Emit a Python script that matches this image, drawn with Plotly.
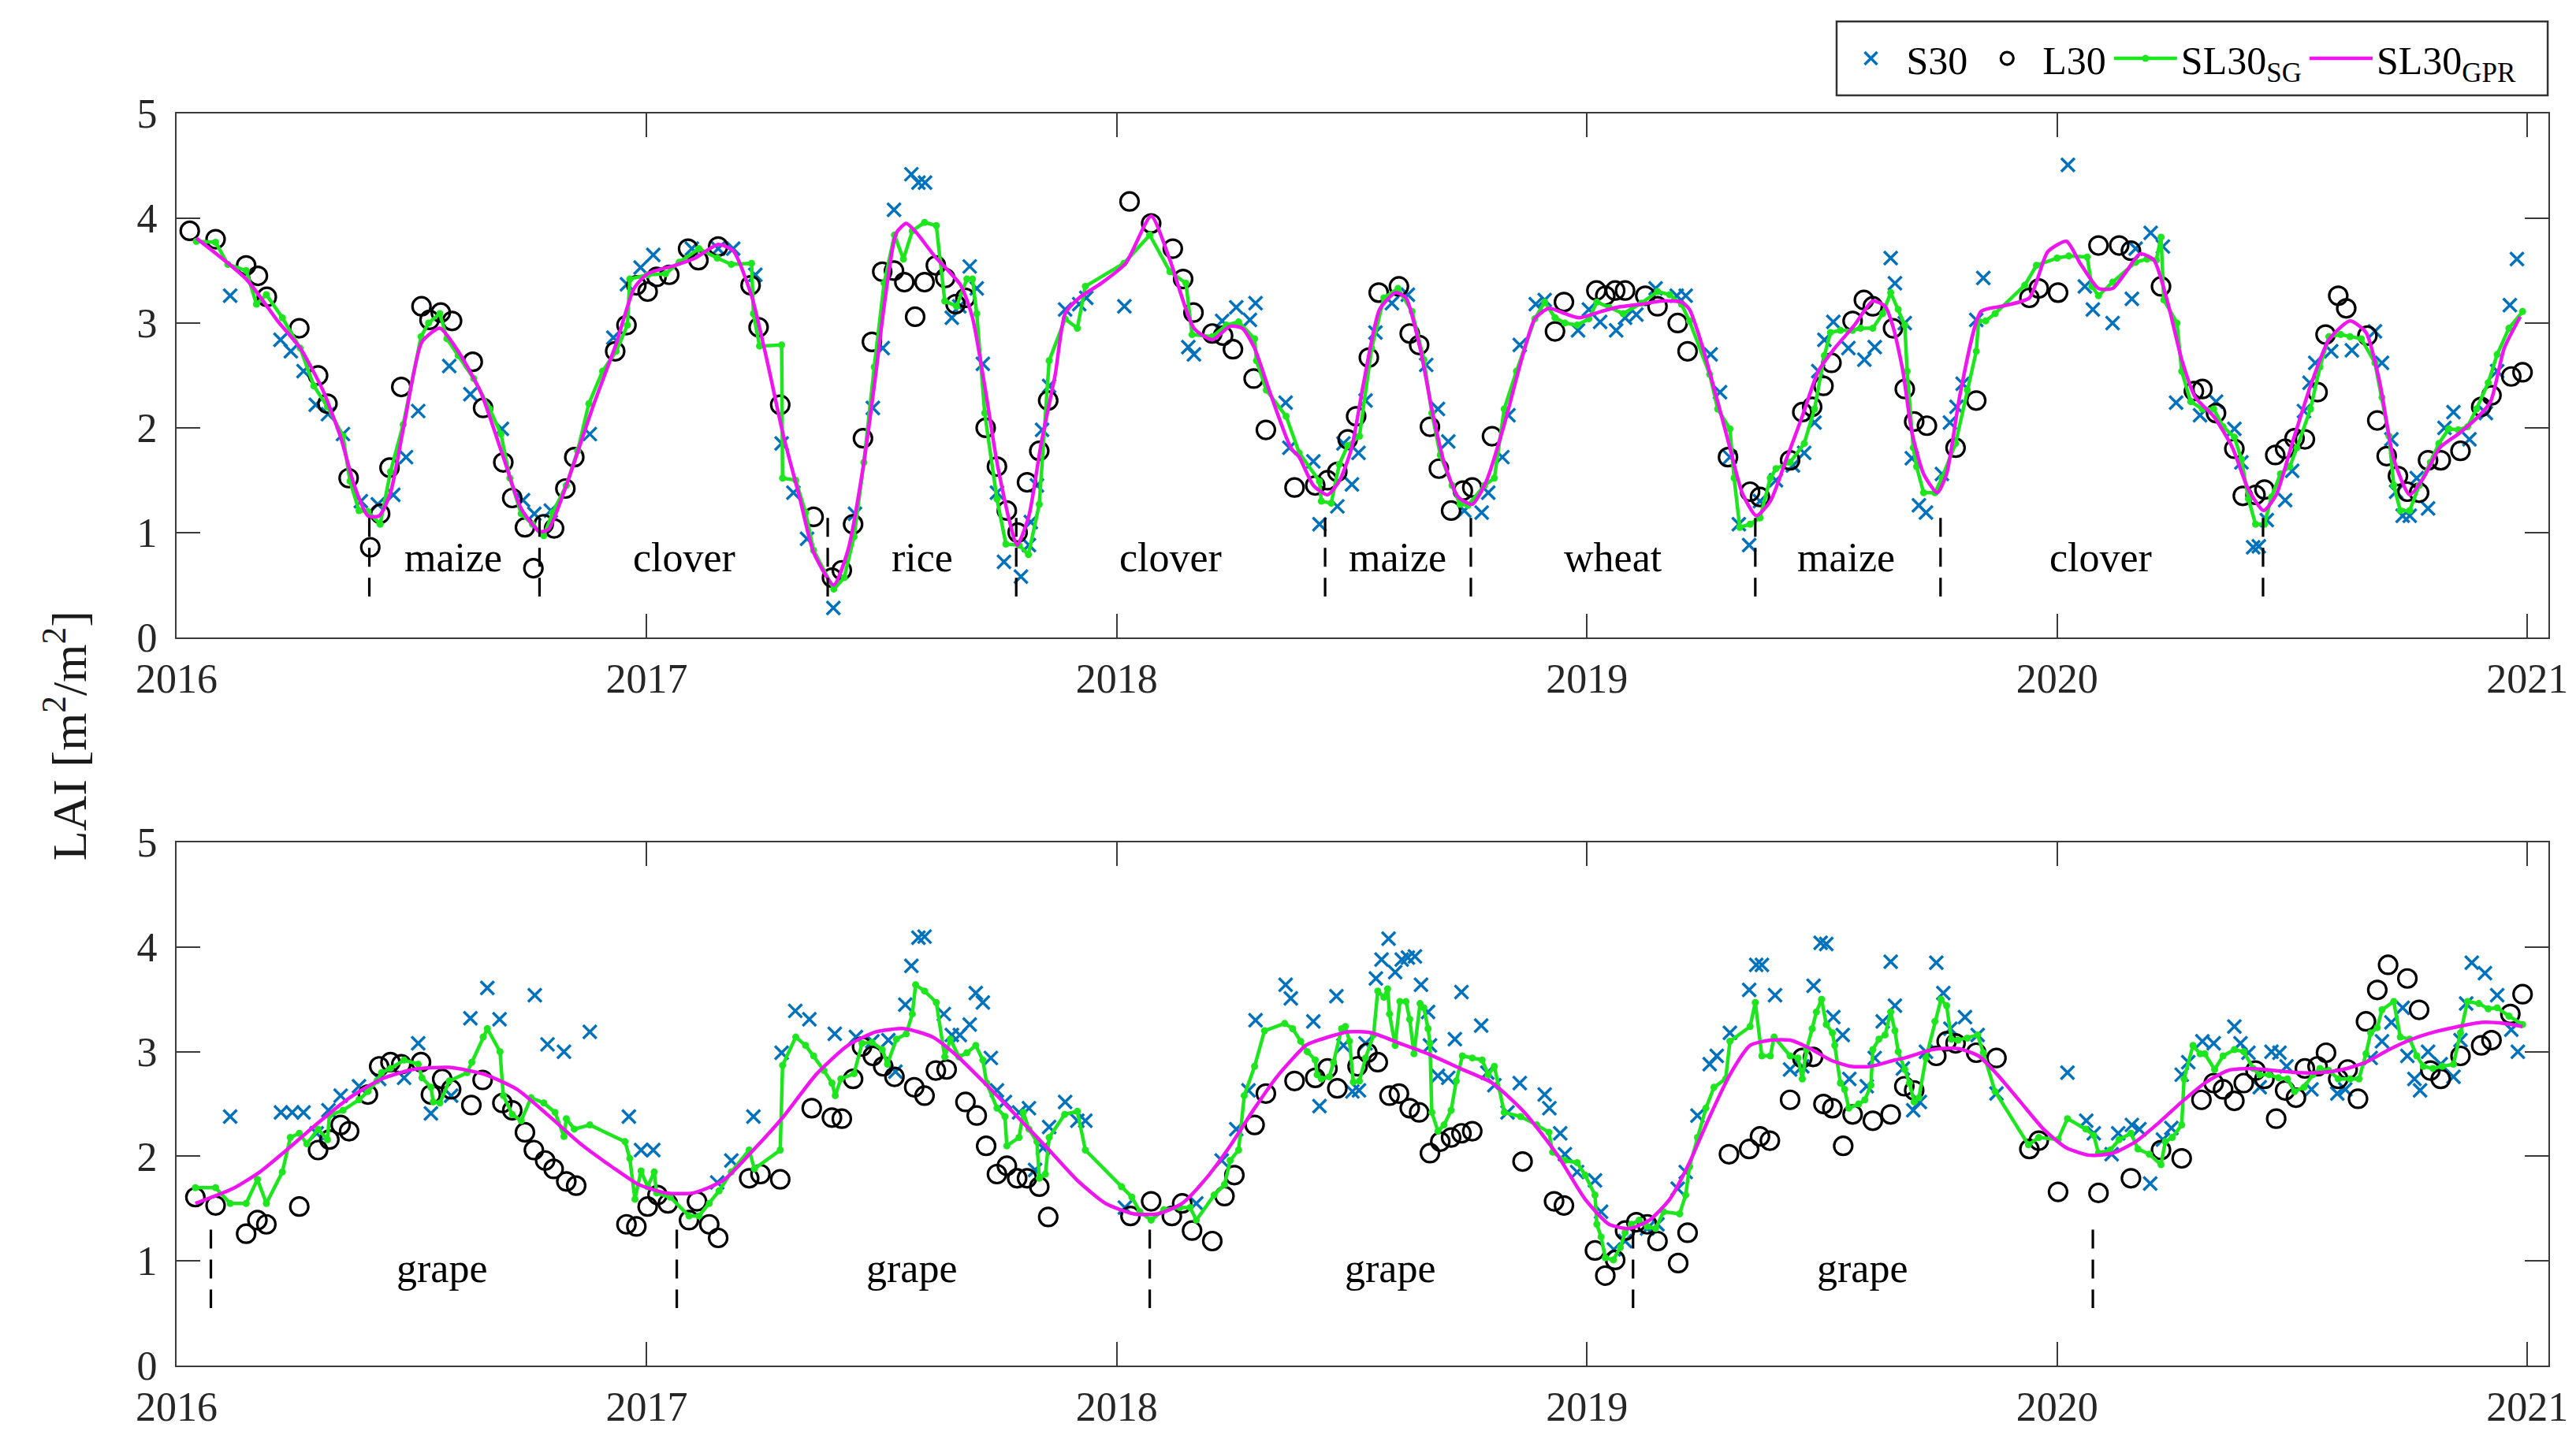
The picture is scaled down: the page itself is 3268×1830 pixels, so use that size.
import plotly.graph_objects as go

# ---------------- data: top panel (crop rotation field) ----------------
top_s30_t = [2016.114, 2016.221, 2016.243, 2016.270, 2016.296, 2016.322, 2016.354, 2016.392, 2016.428, 2016.461, 2016.488, 2016.514, 2016.580, 2016.625, 2016.692, 2016.737, 2016.761, 2016.796, 2016.879, 2016.929, 2016.958, 2016.987, 2017.014, 2017.096, 2017.152, 2017.184, 2017.231, 2017.287, 2017.312, 2017.341, 2017.397, 2017.443, 2017.481, 2017.502, 2017.526, 2017.563, 2017.578, 2017.592, 2017.649, 2017.665, 2017.687, 2017.702, 2017.715, 2017.745, 2017.760, 2017.796, 2017.813, 2017.817, 2017.830, 2017.841, 2017.856, 2017.890, 2017.920, 2017.935, 2018.016, 2018.152, 2018.164, 2018.224, 2018.254, 2018.283, 2018.295, 2018.359, 2018.367, 2018.418, 2018.431, 2018.469, 2018.482, 2018.500, 2018.514, 2018.529, 2018.550, 2018.585, 2018.619, 2018.658, 2018.683, 2018.705, 2018.739, 2018.776, 2018.790, 2018.820, 2018.833, 2018.857, 2018.891, 2018.910, 2018.981, 2019.004, 2019.028, 2019.062, 2019.081, 2019.105, 2019.146, 2019.191, 2019.210, 2019.263, 2019.283, 2019.304, 2019.323, 2019.345, 2019.368, 2019.402, 2019.438, 2019.462, 2019.484, 2019.492, 2019.505, 2019.524, 2019.556, 2019.590, 2019.612, 2019.646, 2019.655, 2019.676, 2019.691, 2019.706, 2019.721, 2019.755, 2019.772, 2019.786, 2019.799, 2019.828, 2019.843, 2020.023, 2020.059, 2020.076, 2020.118, 2020.159, 2020.167, 2020.199, 2020.225, 2020.253, 2020.304, 2020.338, 2020.377, 2020.392, 2020.417, 2020.429, 2020.446, 2020.485, 2020.500, 2020.525, 2020.537, 2020.549, 2020.583, 2020.627, 2020.676, 2020.691, 2020.711, 2020.721, 2020.735, 2020.750, 2020.765, 2020.789, 2020.824, 2020.843, 2020.877, 2020.912, 2020.936, 2020.963, 2020.978]
top_s30_v = [3.26, 2.84, 2.73, 2.54, 2.22, 2.13, 1.94, 1.30, 1.27, 1.36, 1.72, 2.16, 2.59, 2.32, 1.99, 1.31, 1.18, 1.21, 1.94, 2.86, 3.37, 3.53, 3.65, 3.71, 3.71, 3.71, 3.46, 1.85, 1.38, 0.94, 0.28, 1.18, 2.19, 2.76, 4.08, 4.42, 4.34, 4.34, 3.05, 3.16, 3.54, 3.33, 2.61, 1.38, 0.72, 0.58, 0.88, 1.10, 1.45, 1.98, 2.40, 3.13, 3.18, 3.24, 3.16, 2.77, 2.70, 3.02, 3.15, 3.03, 3.19, 2.24, 1.81, 1.68, 1.08, 1.25, 1.85, 1.46, 1.76, 2.26, 2.91, 3.19, 3.27, 2.60, 2.18, 1.87, 1.21, 1.19, 1.38, 1.72, 2.12, 2.79, 3.18, 3.22, 2.93, 3.13, 3.01, 2.93, 3.05, 3.08, 3.33, 3.26, 3.26, 2.70, 2.34, 1.72, 1.08, 0.88, 1.30, 1.50, 1.64, 1.76, 2.05, 2.54, 2.84, 3.01, 2.76, 2.65, 2.77, 3.62, 3.38, 3.00, 1.71, 1.26, 1.19, 1.56, 2.05, 2.20, 2.42, 3.03, 3.43, 4.51, 3.35, 3.13, 3.00, 3.23, 3.71, 3.86, 3.73, 2.24, 2.12, 2.25, 1.99, 1.67, 0.86, 0.87, 1.12, 1.31, 1.59, 2.16, 2.43, 2.62, 2.73, 2.74, 2.92, 2.62, 1.89, 1.39, 1.16, 1.16, 1.52, 1.23, 2.00, 2.15, 1.89, 2.14, 2.54, 3.17, 3.61]

top_l30_t = [2016.028, 2016.083, 2016.148, 2016.173, 2016.192, 2016.261, 2016.301, 2016.321, 2016.366, 2016.412, 2016.433, 2016.453, 2016.478, 2016.521, 2016.538, 2016.562, 2016.586, 2016.630, 2016.652, 2016.695, 2016.714, 2016.741, 2016.759, 2016.781, 2016.803, 2016.827, 2016.846, 2016.933, 2016.957, 2016.978, 2017.002, 2017.021, 2017.048, 2017.088, 2017.110, 2017.152, 2017.221, 2017.238, 2017.284, 2017.355, 2017.394, 2017.415, 2017.439, 2017.460, 2017.479, 2017.501, 2017.526, 2017.548, 2017.571, 2017.591, 2017.615, 2017.635, 2017.657, 2017.678, 2017.721, 2017.745, 2017.766, 2017.789, 2017.809, 2017.835, 2017.854, 2018.027, 2018.073, 2018.119, 2018.141, 2018.163, 2018.203, 2018.226, 2018.247, 2018.291, 2018.317, 2018.378, 2018.422, 2018.448, 2018.469, 2018.491, 2018.509, 2018.536, 2018.557, 2018.600, 2018.623, 2018.643, 2018.666, 2018.685, 2018.711, 2018.736, 2018.756, 2018.798, 2018.932, 2018.951, 2019.020, 2019.039, 2019.060, 2019.081, 2019.124, 2019.150, 2019.193, 2019.214, 2019.300, 2019.347, 2019.368, 2019.432, 2019.458, 2019.479, 2019.503, 2019.520, 2019.565, 2019.589, 2019.608, 2019.651, 2019.676, 2019.696, 2019.723, 2019.784, 2019.828, 2019.941, 2019.961, 2020.002, 2020.088, 2020.132, 2020.157, 2020.221, 2020.291, 2020.309, 2020.338, 2020.377, 2020.395, 2020.422, 2020.441, 2020.464, 2020.485, 2020.505, 2020.527, 2020.554, 2020.571, 2020.598, 2020.615, 2020.660, 2020.681, 2020.701, 2020.725, 2020.745, 2020.770, 2020.789, 2020.816, 2020.858, 2020.902, 2020.924, 2020.966, 2020.990]
top_l30_v = [3.88, 3.80, 3.55, 3.45, 3.25, 2.95, 2.50, 2.23, 1.52, 0.86, 1.18, 1.62, 2.39, 3.16, 3.03, 3.10, 3.02, 2.63, 2.19, 1.67, 1.33, 1.05, 0.66, 1.08, 1.04, 1.42, 1.72, 2.73, 2.98, 3.36, 3.30, 3.44, 3.46, 3.71, 3.60, 3.73, 3.36, 2.96, 2.22, 1.15, 0.57, 0.64, 1.08, 1.90, 2.82, 3.49, 3.50, 3.39, 3.06, 3.39, 3.55, 3.43, 3.18, 3.24, 2.00, 1.63, 1.21, 1.00, 1.48, 1.78, 2.26, 4.16, 3.95, 3.71, 3.42, 3.10, 2.90, 2.88, 2.75, 2.47, 1.98, 1.43, 1.45, 1.50, 1.58, 1.89, 2.11, 2.67, 3.29, 3.35, 2.90, 2.79, 2.01, 1.61, 1.21, 1.40, 1.43, 1.92, 2.92, 3.20, 3.31, 3.26, 3.31, 3.31, 3.26, 3.16, 3.00, 2.73, 1.72, 1.39, 1.34, 1.69, 2.15, 2.20, 2.40, 2.62, 3.02, 3.22, 3.16, 2.95, 2.37, 2.06, 2.02, 1.81, 2.26, 3.24, 3.33, 3.29, 3.74, 3.74, 3.69, 3.35, 2.35, 2.37, 2.14, 1.80, 1.35, 1.36, 1.41, 1.74, 1.80, 1.90, 1.89, 2.34, 2.89, 3.26, 3.14, 2.88, 2.07, 1.73, 1.54, 1.39, 1.38, 1.69, 1.69, 1.78, 2.20, 2.31, 2.49, 2.53]

top_sg_t = [2016.042, 2016.083, 2016.109, 2016.148, 2016.170, 2016.191, 2016.225, 2016.263, 2016.292, 2016.321, 2016.354, 2016.369, 2016.388, 2016.407, 2016.433, 2016.455, 2016.482, 2016.520, 2016.536, 2016.560, 2016.575, 2016.599, 2016.632, 2016.666, 2016.690, 2016.709, 2016.733, 2016.757, 2016.781, 2016.800, 2016.829, 2016.853, 2016.877, 2016.906, 2016.935, 2016.959, 2016.964, 2017.002, 2017.040, 2017.069, 2017.111, 2017.150, 2017.180, 2017.223, 2017.227, 2017.240, 2017.287, 2017.289, 2017.317, 2017.338, 2017.355, 2017.398, 2017.420, 2017.441, 2017.462, 2017.484, 2017.505, 2017.527, 2017.546, 2017.565, 2017.591, 2017.616, 2017.634, 2017.659, 2017.681, 2017.693, 2017.702, 2017.719, 2017.745, 2017.764, 2017.792, 2017.812, 2017.835, 2017.856, 2017.890, 2017.916, 2017.933, 2018.015, 2018.070, 2018.113, 2018.147, 2018.160, 2018.203, 2018.233, 2018.259, 2018.293, 2018.297, 2018.318, 2018.360, 2018.388, 2018.431, 2018.435, 2018.456, 2018.473, 2018.491, 2018.516, 2018.542, 2018.568, 2018.598, 2018.628, 2018.653, 2018.670, 2018.688, 2018.713, 2018.730, 2018.747, 2018.782, 2018.803, 2018.824, 2018.850, 2018.889, 2018.910, 2018.932, 2018.953, 2018.979, 2019.004, 2019.021, 2019.047, 2019.077, 2019.116, 2019.150, 2019.176, 2019.201, 2019.218, 2019.261, 2019.278, 2019.304, 2019.313, 2019.325, 2019.347, 2019.368, 2019.390, 2019.402, 2019.432, 2019.462, 2019.484, 2019.505, 2019.518, 2019.539, 2019.565, 2019.582, 2019.608, 2019.629, 2019.646, 2019.662, 2019.676, 2019.681, 2019.694, 2019.701, 2019.716, 2019.740, 2019.755, 2019.784, 2019.809, 2019.828, 2019.833, 2019.848, 2019.868, 2019.931, 2019.956, 2020.000, 2020.025, 2020.064, 2020.074, 2020.088, 2020.118, 2020.167, 2020.191, 2020.211, 2020.221, 2020.227, 2020.255, 2020.265, 2020.284, 2020.309, 2020.333, 2020.353, 2020.377, 2020.392, 2020.407, 2020.422, 2020.441, 2020.456, 2020.475, 2020.495, 2020.510, 2020.539, 2020.559, 2020.578, 2020.603, 2020.623, 2020.647, 2020.676, 2020.691, 2020.706, 2020.716, 2020.730, 2020.750, 2020.770, 2020.794, 2020.812, 2020.833, 2020.853, 2020.873, 2020.892, 2020.917, 2020.936, 2020.961, 2020.990]
top_sg_v = [3.78, 3.77, 3.56, 3.50, 3.18, 3.27, 3.05, 2.76, 2.40, 2.20, 1.92, 1.49, 1.21, 1.20, 1.08, 1.58, 2.03, 2.87, 3.00, 3.09, 2.85, 2.69, 2.47, 2.18, 1.94, 1.52, 1.18, 1.08, 0.97, 1.19, 1.45, 1.78, 2.23, 2.54, 2.73, 2.98, 3.42, 3.46, 3.47, 3.58, 3.71, 3.62, 3.56, 3.57, 3.09, 2.78, 2.79, 1.52, 1.50, 1.19, 0.83, 0.46, 0.57, 0.96, 1.67, 2.58, 3.38, 3.84, 3.61, 3.88, 3.96, 3.93, 3.21, 3.16, 3.42, 3.42, 3.09, 2.14, 1.32, 0.89, 0.88, 0.79, 1.27, 2.64, 3.04, 2.95, 3.35, 3.57, 3.84, 3.49, 3.38, 2.89, 2.87, 2.98, 3.01, 2.85, 2.64, 2.36, 2.11, 1.76, 1.49, 1.30, 1.28, 1.65, 1.83, 1.92, 2.76, 3.24, 3.33, 3.11, 2.65, 2.14, 1.74, 1.45, 1.27, 1.26, 1.45, 1.52, 2.18, 2.54, 3.04, 3.20, 3.05, 3.00, 2.98, 3.04, 3.20, 3.15, 3.09, 3.19, 3.30, 3.27, 3.18, 3.02, 2.51, 2.18, 1.99, 1.52, 1.05, 1.08, 1.14, 1.52, 1.61, 1.67, 1.85, 2.18, 2.69, 2.91, 2.93, 2.93, 2.95, 2.95, 3.09, 3.29, 3.13, 2.98, 2.54, 1.81, 1.63, 1.38, 1.38, 1.52, 1.85, 2.36, 2.73, 3.02, 3.02, 3.09, 3.36, 3.55, 3.62, 3.64, 3.63, 3.35, 3.26, 3.39, 3.58, 3.61, 3.60, 3.82, 3.22, 3.00, 2.54, 2.25, 2.18, 2.18, 2.01, 1.91, 1.70, 1.32, 1.08, 1.08, 1.34, 1.56, 1.63, 1.81, 2.18, 2.58, 2.87, 2.89, 2.87, 2.85, 2.62, 2.29, 1.92, 1.45, 1.21, 1.21, 1.45, 1.67, 1.85, 1.99, 1.98, 2.01, 2.18, 2.43, 2.70, 2.95, 3.11]

top_gpr_t = [2016.042, 2016.148, 2016.215, 2016.263, 2016.311, 2016.349, 2016.378, 2016.407, 2016.431, 2016.455, 2016.484, 2016.522, 2016.560, 2016.599, 2016.647, 2016.695, 2016.733, 2016.772, 2016.791, 2016.829, 2016.887, 2016.935, 2016.973, 2017.002, 2017.060, 2017.103, 2017.152, 2017.184, 2017.223, 2017.257, 2017.291, 2017.325, 2017.355, 2017.398, 2017.428, 2017.462, 2017.488, 2017.505, 2017.531, 2017.552, 2017.574, 2017.612, 2017.668, 2017.693, 2017.719, 2017.745, 2017.771, 2017.788, 2017.813, 2017.839, 2017.869, 2017.890, 2017.920, 2017.967, 2018.019, 2018.073, 2018.113, 2018.164, 2018.203, 2018.241, 2018.267, 2018.293, 2018.327, 2018.370, 2018.388, 2018.418, 2018.448, 2018.473, 2018.499, 2018.525, 2018.559, 2018.593, 2018.615, 2018.645, 2018.670, 2018.696, 2018.726, 2018.756, 2018.786, 2018.824, 2018.859, 2018.889, 2018.919, 2018.953, 2018.983, 2019.030, 2019.064, 2019.116, 2019.158, 2019.201, 2019.218, 2019.244, 2019.278, 2019.304, 2019.330, 2019.360, 2019.390, 2019.424, 2019.458, 2019.492, 2019.527, 2019.569, 2019.608, 2019.634, 2019.652, 2019.672, 2019.691, 2019.716, 2019.745, 2019.765, 2019.794, 2019.838, 2019.882, 2019.941, 2019.980, 2020.020, 2020.049, 2020.088, 2020.118, 2020.147, 2020.176, 2020.206, 2020.235, 2020.265, 2020.294, 2020.333, 2020.373, 2020.407, 2020.439, 2020.466, 2020.500, 2020.539, 2020.578, 2020.623, 2020.657, 2020.686, 2020.716, 2020.750, 2020.779, 2020.814, 2020.853, 2020.892, 2020.922, 2020.951, 2020.985]
top_gpr_v = [3.81, 3.42, 3.02, 2.76, 2.36, 1.91, 1.45, 1.16, 1.16, 1.38, 2.03, 2.82, 2.95, 2.73, 2.34, 1.72, 1.23, 1.01, 1.03, 1.45, 2.22, 2.80, 3.33, 3.47, 3.55, 3.62, 3.75, 3.69, 3.26, 2.62, 1.92, 1.34, 0.81, 0.50, 0.83, 1.67, 2.54, 3.16, 3.86, 3.95, 3.86, 3.64, 3.36, 3.05, 2.40, 1.67, 1.12, 0.88, 1.16, 1.85, 2.51, 3.09, 3.24, 3.38, 3.57, 4.02, 3.60, 2.95, 2.84, 2.97, 2.95, 2.76, 2.32, 1.81, 1.72, 1.45, 1.36, 1.49, 1.80, 2.43, 3.13, 3.29, 3.24, 2.76, 2.18, 1.67, 1.34, 1.27, 1.49, 2.03, 2.62, 3.04, 3.14, 3.09, 3.05, 3.11, 3.15, 3.18, 3.21, 3.20, 3.13, 2.80, 2.25, 1.81, 1.38, 1.16, 1.30, 1.70, 2.11, 2.54, 2.76, 2.98, 3.21, 3.16, 2.95, 2.54, 1.96, 1.56, 1.38, 1.56, 2.33, 3.11, 3.16, 3.24, 3.68, 3.78, 3.57, 3.33, 3.33, 3.49, 3.66, 3.60, 3.20, 2.65, 2.29, 2.11, 1.81, 1.41, 1.21, 1.36, 1.85, 2.40, 2.84, 3.02, 2.91, 2.44, 1.70, 1.36, 1.52, 1.81, 1.94, 2.09, 2.25, 2.76, 3.06]

top_bounds = [2016.410, 2016.772, 2017.385, 2017.786, 2018.443, 2018.753, 2019.358, 2019.752, 2020.438]
top_crops = ["maize", "clover", "rice", "clover", "maize", "wheat", "maize", "clover"]
top_crop_t = [2016.589, 2017.079, 2017.586, 2018.114, 2018.597, 2019.055, 2019.551, 2020.093]

# ---------------- data: bottom panel (vineyard) ----------------
bot_s30_t = [2016.114, 2016.222, 2016.246, 2016.270, 2016.298, 2016.323, 2016.349, 2016.388, 2016.431, 2016.484, 2016.514, 2016.541, 2016.584, 2016.625, 2016.661, 2016.687, 2016.762, 2016.789, 2016.824, 2016.879, 2016.962, 2016.988, 2017.014, 2017.150, 2017.180, 2017.227, 2017.287, 2017.316, 2017.346, 2017.400, 2017.445, 2017.480, 2017.514, 2017.529, 2017.550, 2017.563, 2017.578, 2017.591, 2017.632, 2017.649, 2017.666, 2017.687, 2017.700, 2017.715, 2017.732, 2017.745, 2017.762, 2017.792, 2017.813, 2017.826, 2017.843, 2017.856, 2017.890, 2017.916, 2017.933, 2018.017, 2018.169, 2018.223, 2018.254, 2018.280, 2018.295, 2018.359, 2018.370, 2018.418, 2018.431, 2018.467, 2018.482, 2018.501, 2018.515, 2018.529, 2018.551, 2018.563, 2018.578, 2018.592, 2018.606, 2018.619, 2018.634, 2018.647, 2018.662, 2018.666, 2018.683, 2018.705, 2018.719, 2018.733, 2018.775, 2018.788, 2018.803, 2018.831, 2018.857, 2018.910, 2018.920, 2018.943, 2018.953, 2018.979, 2019.017, 2019.030, 2019.057, 2019.081, 2019.128, 2019.150, 2019.193, 2019.210, 2019.235, 2019.261, 2019.276, 2019.304, 2019.345, 2019.360, 2019.372, 2019.400, 2019.432, 2019.458, 2019.482, 2019.497, 2019.509, 2019.524, 2019.544, 2019.558, 2019.595, 2019.612, 2019.629, 2019.646, 2019.655, 2019.672, 2019.694, 2019.708, 2019.721, 2019.743, 2019.758, 2019.773, 2019.804, 2019.831, 2019.871, 2020.022, 2020.062, 2020.078, 2020.116, 2020.130, 2020.159, 2020.175, 2020.198, 2020.225, 2020.243, 2020.265, 2020.279, 2020.309, 2020.333, 2020.377, 2020.390, 2020.407, 2020.431, 2020.456, 2020.473, 2020.488, 2020.541, 2020.596, 2020.613, 2020.667, 2020.691, 2020.711, 2020.735, 2020.745, 2020.760, 2020.772, 2020.789, 2020.816, 2020.843, 2020.858, 2020.870, 2020.882, 2020.910, 2020.936, 2020.966, 2020.980]
bot_s30_v = [2.38, 2.42, 2.42, 2.42, 2.22, 2.44, 2.58, 2.67, 2.74, 2.75, 3.08, 2.41, 2.58, 3.32, 3.61, 3.31, 3.54, 3.07, 3.00, 3.19, 2.38, 2.06, 2.06, 1.75, 1.96, 2.38, 2.99, 3.39, 3.31, 3.17, 3.14, 3.10, 3.11, 2.81, 3.45, 3.82, 4.09, 4.10, 3.36, 3.16, 3.16, 3.26, 3.56, 3.47, 2.94, 2.63, 2.52, 2.42, 2.46, 1.87, 2.08, 2.28, 2.52, 2.34, 2.34, 1.51, 1.55, 1.96, 2.26, 2.63, 3.30, 3.64, 3.51, 3.29, 2.48, 3.53, 3.06, 2.62, 2.63, 3.08, 3.70, 3.88, 4.08, 3.76, 3.88, 3.90, 3.91, 3.64, 3.38, 3.06, 2.77, 2.75, 3.12, 3.57, 3.25, 2.80, 2.68, 2.42, 2.70, 2.59, 2.46, 2.22, 2.02, 1.85, 1.77, 1.47, 1.11, 1.19, 1.31, 1.35, 1.69, 1.85, 2.39, 2.88, 2.96, 3.18, 3.59, 3.83, 3.83, 3.54, 2.83, 2.86, 3.63, 4.04, 4.03, 3.33, 3.16, 2.74, 2.67, 2.94, 3.29, 3.86, 3.44, 2.84, 2.44, 2.52, 3.00, 3.85, 3.56, 3.22, 3.33, 3.16, 2.60, 2.80, 2.34, 2.22, 2.02, 2.22, 2.30, 2.26, 1.74, 2.16, 2.27, 2.78, 2.90, 3.10, 3.08, 3.24, 3.08, 2.99, 2.66, 3.00, 2.99, 2.86, 2.64, 2.60, 2.64, 2.94, 3.10, 3.28, 3.42, 2.96, 2.74, 2.63, 3.00, 2.88, 2.76, 3.11, 3.46, 3.85, 3.75, 3.54, 3.21, 3.00]

bot_l30_t = [2016.040, 2016.083, 2016.148, 2016.172, 2016.191, 2016.261, 2016.301, 2016.325, 2016.349, 2016.367, 2016.407, 2016.431, 2016.455, 2016.478, 2016.520, 2016.541, 2016.565, 2016.584, 2016.627, 2016.651, 2016.693, 2016.714, 2016.741, 2016.760, 2016.784, 2016.802, 2016.829, 2016.850, 2016.957, 2016.978, 2017.002, 2017.023, 2017.045, 2017.090, 2017.107, 2017.133, 2017.152, 2017.218, 2017.242, 2017.284, 2017.351, 2017.394, 2017.415, 2017.439, 2017.458, 2017.481, 2017.503, 2017.527, 2017.569, 2017.591, 2017.615, 2017.638, 2017.678, 2017.702, 2017.722, 2017.745, 2017.766, 2017.788, 2017.809, 2017.835, 2017.854, 2018.029, 2018.073, 2018.117, 2018.139, 2018.160, 2018.203, 2018.229, 2018.250, 2018.293, 2018.317, 2018.378, 2018.422, 2018.448, 2018.469, 2018.512, 2018.533, 2018.555, 2018.580, 2018.600, 2018.623, 2018.643, 2018.666, 2018.688, 2018.711, 2018.733, 2018.756, 2018.863, 2018.930, 2018.951, 2019.017, 2019.039, 2019.060, 2019.081, 2019.105, 2019.128, 2019.150, 2019.194, 2019.214, 2019.302, 2019.345, 2019.368, 2019.389, 2019.432, 2019.458, 2019.481, 2019.503, 2019.522, 2019.545, 2019.565, 2019.608, 2019.646, 2019.675, 2019.696, 2019.743, 2019.765, 2019.784, 2019.828, 2019.871, 2019.941, 2019.961, 2020.002, 2020.088, 2020.157, 2020.221, 2020.265, 2020.307, 2020.333, 2020.353, 2020.377, 2020.397, 2020.422, 2020.441, 2020.466, 2020.485, 2020.508, 2020.527, 2020.554, 2020.572, 2020.598, 2020.618, 2020.640, 2020.657, 2020.681, 2020.704, 2020.745, 2020.770, 2020.794, 2020.816, 2020.858, 2020.902, 2020.924, 2020.964, 2020.990]
bot_l30_v = [1.61, 1.53, 1.26, 1.39, 1.35, 1.52, 2.06, 2.16, 2.30, 2.24, 2.59, 2.86, 2.90, 2.88, 2.90, 2.59, 2.74, 2.64, 2.49, 2.73, 2.51, 2.44, 2.23, 2.06, 1.96, 1.88, 1.76, 1.72, 1.35, 1.33, 1.52, 1.63, 1.55, 1.39, 1.57, 1.35, 1.22, 1.79, 1.83, 1.78, 2.46, 2.37, 2.36, 2.74, 3.05, 2.96, 2.86, 2.76, 2.66, 2.58, 2.82, 2.83, 2.52, 2.39, 2.10, 1.83, 1.91, 1.79, 1.79, 1.71, 1.42, 1.43, 1.57, 1.43, 1.55, 1.29, 1.19, 1.62, 1.82, 2.30, 2.60, 2.72, 2.75, 2.84, 2.65, 2.86, 2.99, 2.90, 2.58, 2.60, 2.46, 2.42, 2.03, 2.14, 2.18, 2.22, 2.24, 1.95, 1.57, 1.53, 1.10, 0.86, 1.01, 1.29, 1.37, 1.35, 1.19, 0.98, 1.27, 2.02, 2.07, 2.19, 2.15, 2.54, 2.94, 2.95, 2.50, 2.46, 2.10, 2.40, 2.34, 2.40, 2.67, 2.63, 2.96, 3.10, 3.08, 2.99, 2.94, 2.07, 2.15, 1.66, 1.65, 1.79, 2.06, 1.98, 2.54, 2.70, 2.64, 2.53, 2.70, 2.82, 2.74, 2.36, 2.63, 2.56, 2.84, 2.86, 2.99, 2.74, 2.83, 2.55, 3.29, 3.59, 3.83, 3.70, 3.40, 2.82, 2.74, 2.96, 3.06, 3.11, 3.36, 3.55]

bot_sg_t = [2016.040, 2016.083, 2016.114, 2016.148, 2016.172, 2016.191, 2016.225, 2016.242, 2016.261, 2016.277, 2016.301, 2016.321, 2016.325, 2016.354, 2016.388, 2016.407, 2016.426, 2016.436, 2016.455, 2016.484, 2016.514, 2016.522, 2016.541, 2016.546, 2016.560, 2016.580, 2016.618, 2016.628, 2016.652, 2016.661, 2016.688, 2016.695, 2016.714, 2016.733, 2016.754, 2016.781, 2016.805, 2016.824, 2016.829, 2016.846, 2016.879, 2016.954, 2016.964, 2016.975, 2016.988, 2017.002, 2017.016, 2017.021, 2017.050, 2017.090, 2017.111, 2017.133, 2017.154, 2017.180, 2017.218, 2017.229, 2017.284, 2017.289, 2017.317, 2017.338, 2017.355, 2017.377, 2017.394, 2017.401, 2017.413, 2017.441, 2017.458, 2017.479, 2017.501, 2017.512, 2017.531, 2017.552, 2017.565, 2017.572, 2017.591, 2017.616, 2017.634, 2017.646, 2017.664, 2017.681, 2017.700, 2017.715, 2017.723, 2017.745, 2017.762, 2017.766, 2017.792, 2017.801, 2017.813, 2017.830, 2017.835, 2017.848, 2017.856, 2017.889, 2017.916, 2017.933, 2018.010, 2018.032, 2018.049, 2018.073, 2018.100, 2018.134, 2018.156, 2018.169, 2018.207, 2018.229, 2018.241, 2018.259, 2018.271, 2018.293, 2018.314, 2018.357, 2018.374, 2018.391, 2018.405, 2018.422, 2018.426, 2018.435, 2018.452, 2018.461, 2018.478, 2018.486, 2018.495, 2018.503, 2018.516, 2018.529, 2018.546, 2018.555, 2018.568, 2018.576, 2018.580, 2018.592, 2018.602, 2018.615, 2018.623, 2018.632, 2018.645, 2018.653, 2018.662, 2018.666, 2018.670, 2018.683, 2018.696, 2018.711, 2018.722, 2018.735, 2018.756, 2018.777, 2018.790, 2018.803, 2018.824, 2018.859, 2018.893, 2018.919, 2018.927, 2018.953, 2018.979, 2018.996, 2019.017, 2019.021, 2019.030, 2019.039, 2019.056, 2019.071, 2019.081, 2019.094, 2019.111, 2019.128, 2019.146, 2019.163, 2019.197, 2019.210, 2019.218, 2019.235, 2019.253, 2019.270, 2019.295, 2019.304, 2019.347, 2019.358, 2019.372, 2019.390, 2019.398, 2019.432, 2019.449, 2019.458, 2019.467, 2019.479, 2019.488, 2019.499, 2019.509, 2019.522, 2019.527, 2019.539, 2019.548, 2019.557, 2019.578, 2019.591, 2019.604, 2019.608, 2019.621, 2019.634, 2019.646, 2019.655, 2019.662, 2019.676, 2019.686, 2019.696, 2019.706, 2019.721, 2019.740, 2019.753, 2019.765, 2019.775, 2019.789, 2019.809, 2019.831, 2019.843, 2019.868, 2019.939, 2019.961, 2020.002, 2020.022, 2020.061, 2020.078, 2020.088, 2020.113, 2020.132, 2020.157, 2020.172, 2020.196, 2020.221, 2020.230, 2020.245, 2020.265, 2020.270, 2020.289, 2020.304, 2020.314, 2020.335, 2020.353, 2020.377, 2020.397, 2020.417, 2020.431, 2020.451, 2020.471, 2020.490, 2020.505, 2020.525, 2020.544, 2020.559, 2020.578, 2020.598, 2020.623, 2020.642, 2020.657, 2020.667, 2020.681, 2020.691, 2020.716, 2020.730, 2020.750, 2020.765, 2020.779, 2020.799, 2020.819, 2020.843, 2020.858, 2020.873, 2020.897, 2020.917, 2020.936, 2020.961, 2020.990]
bot_sg_v = [1.70, 1.70, 1.55, 1.55, 1.78, 1.55, 1.85, 2.18, 2.22, 2.12, 2.26, 2.16, 2.39, 2.44, 2.54, 2.62, 2.72, 2.80, 2.84, 2.92, 2.88, 2.75, 2.66, 2.52, 2.51, 2.72, 2.80, 2.90, 3.14, 3.22, 3.00, 2.58, 2.40, 2.34, 2.56, 2.51, 2.42, 2.19, 2.36, 2.26, 2.30, 2.14, 1.98, 1.59, 1.86, 1.71, 1.85, 1.65, 1.61, 1.43, 1.43, 1.55, 1.67, 1.85, 2.06, 1.88, 2.06, 2.87, 3.14, 3.06, 2.96, 2.82, 2.70, 2.58, 2.74, 2.79, 3.08, 3.09, 3.02, 2.88, 3.12, 3.17, 3.36, 3.64, 3.58, 3.47, 2.95, 3.12, 2.95, 2.99, 3.06, 2.92, 2.70, 2.46, 2.38, 2.10, 2.18, 2.42, 2.26, 2.14, 1.79, 1.83, 2.18, 2.40, 2.43, 2.06, 1.71, 1.61, 1.47, 1.39, 1.49, 1.51, 1.51, 1.39, 1.63, 1.73, 1.96, 2.06, 2.58, 2.86, 3.20, 3.27, 3.22, 3.10, 3.00, 2.92, 2.78, 2.74, 2.76, 2.90, 3.22, 3.24, 3.10, 2.71, 2.72, 2.94, 3.16, 3.58, 3.52, 3.60, 3.36, 3.06, 3.48, 3.48, 3.31, 2.98, 3.46, 3.42, 3.22, 3.08, 2.42, 2.24, 2.30, 2.44, 2.72, 2.96, 2.94, 2.92, 2.78, 2.86, 2.42, 2.38, 2.30, 2.23, 2.04, 1.96, 1.94, 1.82, 1.63, 1.35, 1.23, 1.03, 1.01, 1.13, 1.27, 1.35, 1.39, 1.33, 1.31, 1.47, 1.45, 1.63, 1.90, 2.18, 2.46, 2.66, 2.74, 3.10, 3.24, 3.47, 2.96, 2.96, 3.14, 2.96, 2.94, 2.74, 3.02, 3.22, 3.38, 3.50, 3.26, 3.18, 3.06, 2.70, 2.64, 2.46, 2.50, 2.54, 2.68, 3.02, 3.12, 3.16, 3.38, 3.20, 3.00, 2.83, 2.70, 2.52, 2.56, 2.94, 3.29, 3.50, 3.44, 3.12, 3.11, 3.13, 3.16, 2.99, 2.62, 2.11, 2.18, 2.16, 2.36, 2.26, 2.20, 2.03, 2.06, 2.16, 2.22, 2.07, 2.02, 1.92, 2.14, 2.18, 2.30, 2.74, 3.06, 2.98, 2.98, 2.83, 2.96, 3.02, 3.00, 2.84, 2.78, 2.78, 2.75, 2.74, 2.62, 2.66, 2.78, 2.84, 2.82, 2.74, 2.74, 2.74, 2.98, 3.18, 3.23, 3.40, 3.48, 3.14, 3.12, 2.96, 2.86, 2.84, 2.86, 2.88, 3.18, 3.48, 3.46, 3.41, 3.42, 3.34, 3.26]

bot_gpr_t = [2016.040, 2016.119, 2016.177, 2016.234, 2016.301, 2016.368, 2016.436, 2016.503, 2016.580, 2016.657, 2016.724, 2016.791, 2016.859, 2016.926, 2016.983, 2017.041, 2017.099, 2017.163, 2017.231, 2017.291, 2017.360, 2017.428, 2017.488, 2017.548, 2017.608, 2017.660, 2017.719, 2017.788, 2017.856, 2017.916, 2017.976, 2018.036, 2018.087, 2018.139, 2018.190, 2018.241, 2018.293, 2018.344, 2018.402, 2018.422, 2018.491, 2018.542, 2018.602, 2018.662, 2018.730, 2018.799, 2018.867, 2018.936, 2018.996, 2019.047, 2019.090, 2019.133, 2019.176, 2019.218, 2019.261, 2019.304, 2019.347, 2019.390, 2019.432, 2019.475, 2019.518, 2019.561, 2019.604, 2019.655, 2019.676, 2019.735, 2019.789, 2019.833, 2019.873, 2019.922, 2019.971, 2020.020, 2020.069, 2020.118, 2020.167, 2020.216, 2020.265, 2020.314, 2020.363, 2020.412, 2020.461, 2020.510, 2020.559, 2020.608, 2020.657, 2020.706, 2020.755, 2020.804, 2020.853, 2020.902, 2020.951, 2020.990]
bot_gpr_v = [1.55, 1.69, 1.85, 2.06, 2.32, 2.56, 2.74, 2.83, 2.85, 2.78, 2.64, 2.39, 2.12, 1.90, 1.73, 1.65, 1.65, 1.77, 2.08, 2.38, 2.78, 3.06, 3.19, 3.22, 3.14, 2.96, 2.70, 2.38, 2.06, 1.77, 1.55, 1.45, 1.45, 1.55, 1.79, 2.10, 2.46, 2.78, 3.06, 3.10, 3.19, 3.18, 3.08, 2.98, 2.84, 2.70, 2.42, 2.02, 1.59, 1.35, 1.31, 1.39, 1.59, 1.94, 2.38, 2.78, 3.06, 3.11, 3.11, 3.03, 2.92, 2.86, 2.86, 2.92, 2.94, 3.02, 3.03, 2.96, 2.78, 2.52, 2.26, 2.08, 2.01, 2.03, 2.14, 2.32, 2.52, 2.70, 2.82, 2.84, 2.82, 2.80, 2.80, 2.83, 2.90, 3.02, 3.12, 3.19, 3.24, 3.28, 3.27, 3.24]

bot_bounds = [2016.073, 2017.064, 2018.070, 2019.098, 2020.076]
bot_crops = ["grape", "grape", "grape", "grape"]
bot_crop_t = [2016.565, 2017.564, 2018.582, 2019.586]

year_ticks = [2016, 2017, 2018, 2019, 2020, 2021]
lai_ticks = [0, 1, 2, 3, 4, 5]

# ---------------- styling ----------------
FONT = "Liberation Serif"
BLUE = "#0072BD"
GREEN = "#1ee61e"
MAGENTA = "#f014f0"
AXC = "#3a3a3a"

fig = go.Figure()


def add_panel(xa, ya, s_t, s_v, l_t, l_v, sg_t, sg_v, gp_t, gp_v, bounds, b_lo, b_hi, show):
    fig.add_trace(go.Scatter(x=s_t, y=s_v, mode="markers", name="S30", xaxis=xa, yaxis=ya,
                             showlegend=show, legendrank=1,
                             marker=dict(symbol="x-thin", size=17, color=BLUE,
                                         line=dict(color=BLUE, width=3.5))))
    fig.add_trace(go.Scatter(x=l_t, y=l_v, mode="markers", name="L30", xaxis=xa, yaxis=ya,
                             showlegend=show, legendrank=2,
                             marker=dict(symbol="circle-open", size=23, color="black",
                                         line=dict(color="black", width=3.2))))
    fig.add_trace(go.Scatter(x=sg_t, y=sg_v, mode="lines+markers", name="SL30<sub>SG</sub>",
                             xaxis=xa, yaxis=ya, showlegend=show, legendrank=3,
                             line=dict(color=GREEN, width=4.5),
                             marker=dict(symbol="circle", size=9, color=GREEN)))
    fig.add_trace(go.Scatter(x=gp_t, y=gp_v, mode="lines", name="SL30<sub>GPR</sub>",
                             xaxis=xa, yaxis=ya, showlegend=show, legendrank=4,
                             line=dict(color=MAGENTA, width=4.5, shape="spline", smoothing=0.6)))
    bx, by = [], []
    for b in bounds:
        bx += [b, b, None]
        by += [b_hi, b_lo, None]
    fig.add_trace(go.Scatter(x=bx, y=by, mode="lines", xaxis=xa, yaxis=ya, showlegend=False,
                             hoverinfo="skip",
                             line=dict(color="black", width=3.2, dash="24px,14px")))


add_panel("x", "y", top_s30_t, top_s30_v, top_l30_t, top_l30_v, top_sg_t, top_sg_v,
          top_gpr_t, top_gpr_v, top_bounds, 0.39, 1.14, True)
add_panel("x2", "y2", bot_s30_t, bot_s30_v, bot_l30_t, bot_l30_v, bot_sg_t, bot_sg_v,
          bot_gpr_t, bot_gpr_v, bot_bounds, 0.55, 1.30, False)

annotations = []
for name, t in zip(top_crops, top_crop_t):
    annotations.append(dict(x=t, y=0.765, xref="x", yref="y", text=name, showarrow=False,
                            font=dict(family=FONT, size=52, color="black"),
                            xanchor="center", yanchor="middle"))
for name, t in zip(bot_crops, bot_crop_t):
    annotations.append(dict(x=t, y=0.93, xref="x2", yref="y2", text=name, showarrow=False,
                            font=dict(family=FONT, size=52, color="black"),
                            xanchor="center", yanchor="middle"))
annotations.append(dict(x=-0.047, y=0.503, xref="paper", yref="paper",
                        text="LAI [m<sup>2</sup>/m<sup>2</sup>]", showarrow=False, textangle=-90,
                        font=dict(family=FONT, size=62, color="#1a1a1a"),
                        xanchor="center", yanchor="middle"))

xcommon = dict(range=[2016, 2021.045], tickmode="array", tickvals=year_ticks,
               ticktext=[str(v) for v in year_ticks], ticks="inside", ticklen=30, tickwidth=2,
               tickcolor=AXC, showline=True, linecolor=AXC, linewidth=2, mirror="ticks",
               showgrid=False, zeroline=False, ticklabelstandoff=6,
               tickfont=dict(family=FONT, size=52, color="#262626"))
ycommon = dict(range=[0, 5], tickmode="array", tickvals=lai_ticks,
               ticktext=[str(v) for v in lai_ticks], ticks="inside", ticklen=30, tickwidth=2,
               tickcolor=AXC, showline=True, linecolor=AXC, linewidth=2, mirror="ticks",
               showgrid=False, zeroline=False, ticklabelstandoff=12,
               tickfont=dict(family=FONT, size=52, color="#262626"))

# legend frame (paper coordinates of the reference box)
LEG_X0, LEG_X1, LEG_Y0, LEG_Y1 = 0.6999, 0.9997, 1.0145, 1.0735

fig.update_layout(
    width=3268, height=1830,
    margin=dict(l=216, r=43, t=136, b=105),
    paper_bgcolor="white", plot_bgcolor="white",
    font=dict(family=FONT, size=50, color="black"),
    xaxis=dict(**xcommon, anchor="y", domain=[0, 1]),
    yaxis=dict(**ycommon, anchor="x", domain=[0.5816, 1.0]),
    xaxis2=dict(**xcommon, anchor="y2", domain=[0, 1]),
    yaxis2=dict(**ycommon, anchor="x2", domain=[0.0, 0.4178]),
    legend=dict(orientation="h", x=(LEG_X0 + LEG_X1) / 2 - 0.006, xanchor="center",
                y=(LEG_Y0 + LEG_Y1) / 2, yanchor="middle",
                bgcolor="rgba(0,0,0,0)", borderwidth=0,
                font=dict(family=FONT, size=50, color="black"),
                itemwidth=80, traceorder="normal"),
    shapes=[dict(type="rect", xref="paper", yref="paper", x0=LEG_X0, x1=LEG_X1,
                 y0=LEG_Y0, y1=LEG_Y1, line=dict(color="#333333", width=2.5),
                 fillcolor="white", layer="below")],
    annotations=annotations,
    showlegend=True,
)

fig.write_html("out.html")
